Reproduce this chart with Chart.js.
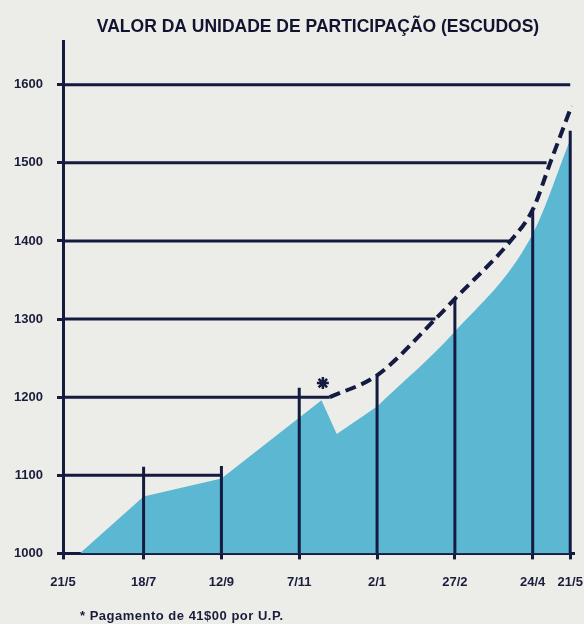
<!DOCTYPE html>
<html lang="pt">
<head>
  <meta charset="UTF-8">
  <title>Valor da Unidade de Participação</title>
  <script src="https://cdn.jsdelivr.net/npm/chart.js"></script>
  <style>
    body { margin: 0; background: #ecece9; }
    .wrap { position: relative; width: 584px; height: 624px; }
    .nota {
      position: absolute; left: 80px; top: 608px;
      font: bold 13px "Liberation Sans", sans-serif; letter-spacing: 0.5px; color: #1a1d3a;
    }
  </style>
</head>
<body>
  <div class="wrap">
    <canvas id="grafico" width="584" height="624"></canvas>
    <div class="nota">* Pagamento de 41$00 por U.P.</div>
  </div>

  <script>
    // datas (dias desde 21/5) e rótulos do eixo x
    const tickDays = [0, 58, 114, 170, 226, 282, 338, 365];
    const tickLabels = ["21/5", "18/7", "12/9", "7/11", "2/1", "27/2", "24/4", "21/5"];
    const yTicks = [1000, 1100, 1200, 1300, 1400, 1500, 1600];

    // valor da U.P. (área azul) - parte recta e parte curva
    const valorDiasA = [12, 58, 114, 186, 197, 226];
    const valorA = [1000, 1073, 1096, 1196, 1153, 1188];
    const valorDiasB = [226, 282, 338, 365];
    const valorB = [1188, 1284, 1409, 1530];

    // valor com o pagamento (tracejado)
    const pagDias = [192, 226, 268, 282, 322, 338, 351, 366];
    const pagValor = [1200, 1228, 1300, 1326, 1400, 1440, 1502, 1573];

    // linhas horizontais: valor e dia onde terminam
    const linhaValores = [1100, 1200, 1300, 1400, 1500, 1600];
    const linhaFim = [115, 192, 268, 322, 348, 365];

    // linhas verticais: dia e altura
    const hasteDias = [58, 114, 170, 226, 282, 338, 365];
    const hasteTopo = [1111, 1112, 1212, 1228, 1327, 1438, 1541];

    // asterisco
    const notaDia = [187];
    const notaValor = [1218];

    const navy = "#141a40";
    const azul = "#5cb8d2";

    const pts = (xs, ys) => xs.map((x, i) => ({ x: x, y: ys[i] }));

    const datasets = [];
    datasets.push({
      data: pts(valorDiasA, valorA),
      borderWidth: 0, backgroundColor: azul, fill: { value: 1000 },
      pointRadius: 0, tension: 0, order: 10,
    });
    datasets.push({
      data: pts(valorDiasB, valorB),
      borderWidth: 0, backgroundColor: azul, fill: { value: 1000 },
      pointRadius: 0, cubicInterpolationMode: "monotone", order: 10,
    });
    linhaValores.forEach((v, i) => {
      datasets.push({
        data: [{ x: 0, y: v }, { x: linhaFim[i], y: v }],
        borderColor: navy, borderWidth: 3, pointRadius: 0, order: 2,
      });
    });
    hasteDias.forEach((d, i) => {
      datasets.push({
        data: [{ x: d, y: 1000 }, { x: d, y: hasteTopo[i] }],
        borderColor: navy, borderWidth: 3, pointRadius: 0, order: 2,
      });
    });
    datasets.push({
      data: pts(pagDias, pagValor),
      borderColor: navy, borderWidth: 4, borderDash: [11, 6],
      pointRadius: 0, cubicInterpolationMode: "monotone", order: 0,
    });
    datasets.push({
      type: "scatter",
      data: pts(notaDia, notaValor),
      pointStyle: "star", pointRadius: 6, borderWidth: 2.5,
      borderColor: navy, order: 0,
    });

    const ctx = document.getElementById("grafico").getContext("2d");
    new Chart(ctx, {
      type: "line",
      data: { datasets: datasets },
      options: {
        responsive: false,
        animation: false,
        devicePixelRatio: 1,
        layout: { padding: { right: 0, bottom: 19 } },
        plugins: {
          legend: { display: false },
          tooltip: { enabled: false },
          title: {
            display: true,
            fullSize: false,
            text: "VALOR DA UNIDADE DE PARTICIPAÇÃO (ESCUDOS)",
            color: "#10142e",
            font: { family: "Liberation Sans", size: 17.5, weight: "bold" },
            padding: { top: 17, bottom: 3 },
          },
        },
        scales: {
          x: {
            type: "linear",
            min: 0,
            max: 367,
            afterBuildTicks: s => { s.ticks = tickDays.map(v => ({ value: v })); },
            afterFit: s => { s.paddingLeft = 0; s.paddingRight = 11; },
            ticks: {
              callback: (v, i) => tickLabels[i],
              color: "#1a1d3a",
              font: { family: "Liberation Sans", size: 13, weight: "bold" },
              padding: 15,
              autoSkip: false,
              maxRotation: 0,
            },
            grid: { drawOnChartArea: false, tickLength: 6, color: navy, lineWidth: 3 },
            border: { color: navy, width: 3 },
          },
          y: {
            min: 1000,
            max: 1656,
            afterBuildTicks: s => { s.ticks = yTicks.map(v => ({ value: v })); },
            afterFit: s => { s.width = 63; },
            ticks: {
              callback: v => String(v),
              color: "#1a1d3a",
              font: { family: "Liberation Sans", size: 13, weight: "bold" },
              padding: 14,
            },
            grid: { drawOnChartArea: false, tickLength: 6, color: navy, lineWidth: 3 },
            border: { color: navy, width: 3 },
          },
        },
      },
    });
  </script>
</body>
</html>
